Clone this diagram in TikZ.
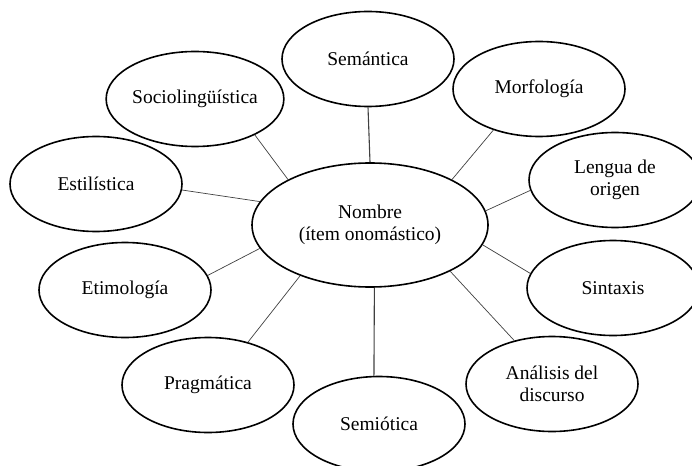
\documentclass[tikz,border=0pt]{standalone}
\usepackage{fontspec}
\setmainfont{Liberation Serif}
\usetikzlibrary{shapes.geometric}
\begin{document}
\begin{tikzpicture}[x=1pt,y=-1pt,
  topic/.style={ellipse, draw=black, line width=1.6pt, minimum width=172pt,
    minimum height=95pt, inner sep=0pt, align=center,
    font=\fontsize{19.5}{22.5}\selectfont},
  link/.style={draw=black!75, line width=0.7pt},
  stem/.style={draw=black!75, line width=1.1pt}]
\clip (0,0) rectangle (692,465);

% central concept
\node[topic, minimum width=236pt, minimum height=124pt] (main) at (370,225)
  {Nombre\\(ítem onomástico)};

% surrounding disciplines
\node[topic] (sem)  at (368,59)  {Semántica};
\node[topic] (soc)  at (195,99)  {Sociolingüística};
\node[topic] (est)  at (96,184)  {Estilística};
\node[topic] (mor)  at (539,89)  {Morfología};
\node[topic] (len)  at (615,180) {Lengua de\\origen};
\node[topic] (eti)  at (125,290) {Etimología};
\node[topic] (sin)  at (613,288) {Sintaxis};
\node[topic] (pra)  at (208,385) {Pragmática};
\node[topic] (ana)  at (552,384) {Análisis del\\discurso};
\node[topic] (smi)  at (379,424) {Semiótica};

% connectors to the centre
\draw[stem] (sem.south) -- (main.north);
\draw[stem] (smi.96) -- (main.-86);
\draw[link] (soc.-31) -- (main.151);
\draw[link] (est.-4) -- (main.168);
\draw[link] (mor.-138) -- (main.29);
\draw[link] (len.187) -- (main.7);
\draw[link] (eti.10) -- (main.192);
\draw[link] (pra.47) -- (main.216);
\draw[link] (sin.170) -- (main.-10);
\draw[link] (ana.131) -- (main.-30);
\end{tikzpicture}
\end{document}
